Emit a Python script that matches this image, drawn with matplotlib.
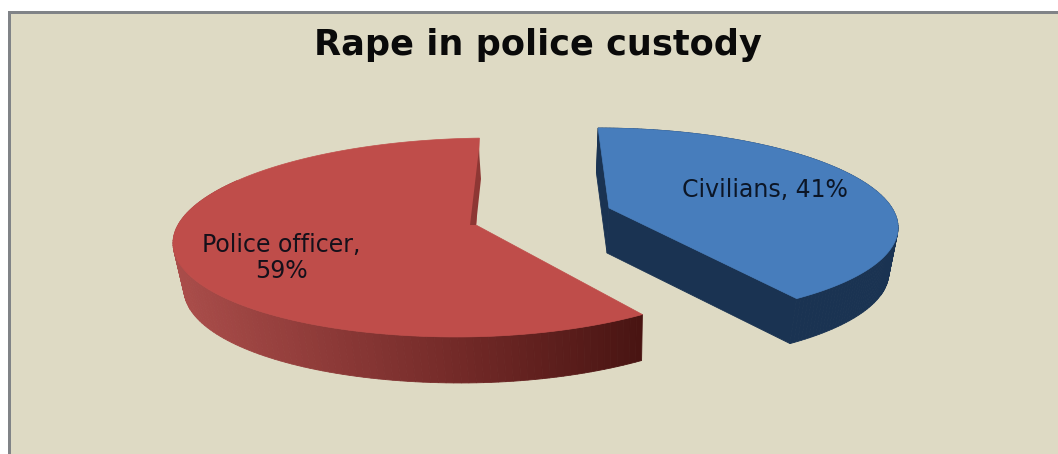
import numpy as np
import matplotlib.pyplot as plt
from matplotlib.patches import Polygon, Rectangle
from matplotlib.colors import LinearSegmentedColormap

# Chart data
title = "Rape in police custody"
categories = ["Police officer", "Civilians"]
shares = [59, 41]
labels = ["Police officer,\n59%", "Civilians, 41%"]

# Colours
bg = "#DEDAC4"
top_colors = ["#BF4D4A", "#477DBC"]
red_side = LinearSegmentedColormap.from_list("red_side", ["#AA4D4A", "#8C3937", "#6C2624", "#481412"])
blue_side = "#1A3352"
red_sliver = "#8E3734"


def make_proj(ax0, ay0, xv, a_left, a_right, b, k, depth):
    # circle -> screen, simple perspective towards the vanishing x
    def proj(theta, r=1.0, low=False):
        u = r * np.cos(np.radians(theta))
        v = -r * np.sin(np.radians(theta))
        a = a_left if u < 0 else a_right
        x = xv + (ax0 - xv + a * u) / (1 - k * v)
        y = ay0 + b * v / (1 - k * v)
        if low:
            x = xv + (x - xv) * 0.975
            y = y + depth
        return x, y
    return proj


def draw_slice(ax, proj, start, sweep, color, side):
    # sweep is signed, + means counter clockwise
    thetas = start + np.linspace(0, sweep, 160)
    # side wall, cut in strips so it can carry a gradient
    for t0, t1 in zip(thetas[:-1], thetas[1:]):
        if callable(side):
            # back part of the red wall is hidden anyway
            if t0 < 150:
                continue
            c = side((proj(t0)[0] - 173) / (641 - 173))
        else:
            c = side
        pts = [proj(t0), proj(t1), proj(t1, low=True), proj(t0, low=True)]
        ax.add_patch(Polygon(pts, closed=True, facecolor=c, edgecolor=c, lw=0.6, zorder=2))
    # cut faces
    if not callable(side):
        for t in [thetas[0], thetas[-1]]:
            pts = [proj(t, 0), proj(t), proj(t, low=True), proj(t, 0, low=True)]
            ax.add_patch(Polygon(pts, closed=True, facecolor=side, edgecolor=side, lw=0.6, zorder=3))
    # top face
    pts = [proj(0, 0)] + [proj(t) for t in thetas]
    ax.add_patch(Polygon(pts, closed=True, facecolor=color, edgecolor=color, lw=0.5, zorder=4))


fig = plt.figure(figsize=(10.58, 4.54), dpi=100, facecolor="white")
ax = fig.add_axes([0, 0, 1, 1])
ax.set_xlim(0, 1058)
ax.set_ylim(454, 0)
ax.axis("off")

# slide background with the grey edge on top and left
ax.add_patch(Rectangle((8, 11), 1050, 443, facecolor="#808387", edgecolor="none", zorder=0))
ax.add_patch(Rectangle((10.5, 13.5), 1048, 441, facecolor=bg, edgecolor="none", zorder=1))

red_proj = make_proj(476, 225, 610, 298, 285, 97.9, 0.1256, 46)
blue_proj = make_proj(609, 208, 530, 283, 283, 92.8, 0.16, 45)

draw_slice(ax, red_proj, 92.5, 3.6 * shares[0], top_colors[0], red_side)
draw_slice(ax, blue_proj, 90, -3.6 * shares[1], top_colors[1], blue_side)

# small dark sliver on the inner edge of the red slice
sliver = [red_proj(92.5, 0.86), red_proj(91.2, 0.5), red_proj(92.5, 0.0), red_proj(180, 0.02)]
ax.add_patch(Polygon(sliver, closed=True, facecolor=red_sliver, edgecolor="none", zorder=5))

ax.text(538, 55, title, fontsize=25.3, fontweight="bold", family="DejaVu Sans",
        color="#0a0a0a", ha="center", va="baseline", zorder=6)
ax.text(281, 258, labels[0], fontsize=17, family="DejaVu Sans", color="#14101a",
        ha="center", va="center", linespacing=1.1, zorder=6)
ax.text(765, 190, labels[1], fontsize=17, family="DejaVu Sans", color="#0c1626",
        ha="center", va="center", zorder=6)

fig.savefig("out.png", dpi=100)
